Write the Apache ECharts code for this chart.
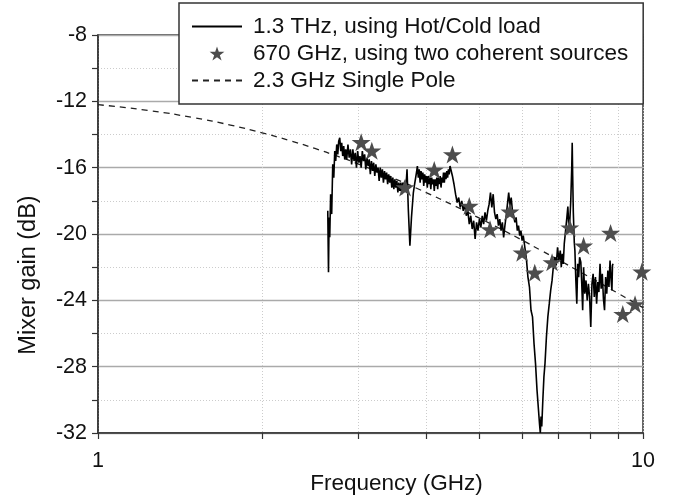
<!DOCTYPE html>
<html><head><meta charset="utf-8">
<script src="https://cdn.jsdelivr.net/npm/echarts@6/dist/echarts.min.js"></script>
<style>html,body{margin:0;padding:0;background:#fff}#c{width:677px;height:499px}</style>
</head><body><div id="c"></div>
<script>
// 1.3 THz, using Hot/Cold load (frequency GHz, gain dB)
const thzFreq = [2.640,2.648,2.655,2.662,2.672,2.684,2.696,2.708,2.719,2.730,2.742,2.754,2.765,2.777,2.789,2.800,2.812,2.824,2.836,2.848,
 2.860,2.875,2.890,2.905,2.920,2.935,2.950,2.965,2.980,2.995,3.010,3.025,3.040,3.055,3.070,3.085,3.100,3.115,3.130,3.145,3.160,3.175,3.190,3.205,
 3.220,3.235,3.250,3.265,3.280,3.295,3.310,3.325,3.340,3.355,3.370,3.385,3.400,3.415,3.430,3.445,3.460,3.475,3.490,3.505,3.520,3.535,3.550,3.565,
 3.580,3.595,3.610,3.625,3.640,3.655,3.670,
 3.69,3.71,3.735,3.76,3.79,3.81,
 3.840,3.855,3.870,3.885,3.900,3.915,3.930,3.945,3.960,3.975,3.990,4.005,4.020,4.035,4.050,4.065,4.080,4.095,4.110,4.125,4.140,4.155,4.170,4.185,
 4.200,4.215,4.230,4.245,4.260,4.275,4.290,4.305,4.320,4.335,4.350,4.365,4.380,4.395,4.410,4.425,4.440,4.47,
 4.50,4.53,4.56,4.59,4.62,4.65,4.68,4.71,4.74,4.77,4.80,4.83,4.86,4.89,4.92,4.95,4.98,5.01,5.04,5.07,5.10,5.13,5.16,5.19,5.22,5.25,5.28,5.31,
 5.34,5.37,5.40,5.43,5.46,5.49,5.52,5.55,5.58,5.61,5.64,5.67,5.70,5.73,5.76,5.79,5.82,5.85,5.88,5.91,5.94,5.97,6.00,6.03,6.07,6.11,6.15,6.19,
 6.23,6.27,6.31,6.35,6.39,6.43,6.46,6.48,6.50,6.52,6.55,6.58,6.61,6.65,6.69,6.73,6.77,6.81,6.85,6.89,6.93,6.97,7.01,7.05,7.08,7.11,7.14,7.17,
 7.21,7.25,7.28,7.31,7.34,7.37,7.40,7.415,7.43,7.45,7.48,7.50,7.53,7.56,7.59,7.62,7.65,7.69,7.72,7.75,7.78,7.82,7.86,7.90,7.94,7.98,8.02,8.06,
 8.10,8.14,8.18,8.22,8.26,8.30,8.34,8.38,8.42,8.46,8.50,8.54,8.58,8.62,8.66,8.70,8.74,8.77,8.79,8.81];
const thzGain = [-18.6,-22.3,-19.0,-20.2,-17.6,-18.8,-15.8,-16.6,-15.0,-15.6,-14.6,-15.2,-14.4,-14.2,-15.0,-14.5,-15.3,-14.7,-15.5,-14.9,
 -15.5,-14.6,-15.4,-14.9,-15.8,-14.9,-15.6,-15.1,-16.0,-15.0,-15.7,-15.3,-16.0,-15.0,-15.6,-15.2,-16.1,-15.4,-15.9,-15.5,-16.4,-15.6,-16.2,-15.7,
 -16.5,-15.8,-16.3,-16.0,-16.8,-16.0,-16.6,-16.1,-16.9,-16.2,-16.7,-16.3,-17.0,-16.4,-16.9,-16.5,-17.2,-16.6,-17.3,-16.7,-17.2,-16.8,-17.5,-16.9,
 -17.4,-16.9,-17.6,-16.9,-17.3,-16.8,-17.4,
 -16.1,-18.5,-20.7,-19.0,-17.5,-17.0,
 -16.3,-15.9,-16.6,-16.1,-16.9,-16.2,-16.7,-16.3,-17.1,-16.4,-16.9,-16.5,-17.2,-16.5,-17.0,-16.6,-17.3,-16.6,-17.0,-16.7,-17.4,-16.7,-17.1,-16.6,
 -17.3,-16.6,-17.0,-16.5,-17.2,-16.6,-16.9,-16.3,-16.9,-16.3,-16.7,-16.2,-16.6,-16.1,-16.4,-15.9,-16.0,-16.5,
 -17.0,-17.6,-18.1,-17.8,-18.4,-18.0,-18.6,-18.2,-18.9,-18.6,-19.4,-18.9,-19.7,-19.2,-20.3,-19.3,-19.8,-19.1,-19.6,-18.9,-19.4,-18.7,-19.2,-18.6,-18.2,-17.5,-18.4,-17.6,
 -18.7,-19.1,-18.8,-19.5,-19.1,-19.8,-19.3,-20.2,-19.5,-18.9,-18.2,-17.5,-18.3,-17.8,-18.6,-18.9,-19.3,-19.0,-19.8,-19.5,-20.1,-19.8,-20.4,-20.1,-20.8,-21.5,-22.6,-23.2,
 -24.6,-25.0,-26.6,-27.8,-29.4,-30.6,-31.5,-32.0,-31.0,-31.6,-30.0,-28.6,-27.8,-26.2,-25.0,-24.2,-23.4,-22.8,-21.9,-21.4,-21.9,-20.8,-21.6,-21.0,-22.0,-21.2,-21.8,-20.6,
 -19.8,-19.0,-18.35,-19.6,-19.2,-18.0,-16.0,-14.5,-16.5,-18.7,-20.5,-21.0,-22.8,-24.2,-21.8,-22.6,-21.4,-21.7,-23.0,-24.6,-22.0,-23.6,-22.8,-24.0,-23.0,-23.8,-25.6,-23.0,
 -22.4,-23.8,-22.6,-24.2,-22.9,-23.5,-21.8,-23.3,-22.4,-23.9,-24.6,-22.6,-23.6,-22.2,-23.2,-21.6,-22.8,-23.4,-21.9,-21.8];

// 670 GHz, using two coherent sources
const starFreq = [3.04,3.18,3.66,4.14,4.47,4.80,5.24,5.70,6.00,6.33,6.81,7.34,7.78,8.72,9.18,9.67,9.95];
const starGain = [-14.47,-14.98,-17.19,-16.14,-15.20,-18.31,-19.72,-18.66,-21.13,-22.34,-21.71,-19.62,-20.71,-19.94,-24.83,-24.24,-22.28];

// 2.3 GHz Single Pole
const poleFreq = [1,1.25,1.5,1.75,2,2.25,2.5,2.75,3,3.5,4,4.5,5,5.5,6,6.5,7,7.5,8,8.5,9,9.5,10];
const poleGain = [-12.2,-12.57,-12.99,-13.43,-13.9,-14.37,-14.84,-15.31,-15.77,-16.66,-17.5,-18.29,-19.03,-19.72,-20.37,-20.99,-21.56,-22.11,-22.62,-23.11,-23.58,-24.02,-24.44];

const xTicks = [1,2,3,4,5,6,7,8,9,10];
const xLabels = [1,10];
const seriesNames = ['1.3 THz, using Hot/Cold load','670 GHz, using two coherent sources','2.3 GHz Single Pole'];

const zip = (a,b) => a.map((v,i)=>[v,b[i]]);
const FONT = "'Liberation Sans', Arial, Helvetica, sans-serif";
const star = 'path://M50,0 L61.8,35.1 L98.9,35.1 L68.8,57.3 L80.3,92.7 L50,70.8 L19.7,92.7 L31.2,57.3 L1.1,35.1 L38.2,35.1 Z';
const hidden = {opacity:0,color:'transparent',borderColor:'transparent',borderWidth:0};

const chart = echarts.init(document.getElementById('c'), null, {renderer:'canvas'});
chart.setOption({
  animation:false,
  backgroundColor:'#fff',
  textStyle:{fontFamily:FONT},
  grid:{left:98,right:34,top:35,bottom:66,containLabel:false,outerBoundsMode:'none',show:true,borderColor:'#333',borderWidth:1.5,backgroundColor:'transparent'},
  legend:{
    orient:'vertical',left:179,top:3,
    data:[{name:seriesNames[0],itemStyle:hidden},{name:seriesNames[1]},{name:seriesNames[2],itemStyle:hidden}],
    backgroundColor:'#fff',borderColor:'#333',borderWidth:1.5,borderRadius:0,
    padding:[12,15,12,12],itemGap:4,itemWidth:50,itemHeight:14,
    textStyle:{fontSize:22.5,color:'#111',fontFamily:FONT,lineHeight:23,padding:[0,0,0,6]}
  },
  xAxis:{
    type:'log',logBase:10,min:1,max:10,
    name:'Frequency (GHz)',nameLocation:'middle',nameGap:39,nameMoveOverlap:false,
    nameTextStyle:{fontSize:22.5,color:'#111',fontFamily:FONT,padding:[0,0,0,52]},
    axisLine:{lineStyle:{color:'#333',width:1.5}},
    axisTick:{show:true,inside:false,length:6,customValues:xTicks,lineStyle:{color:'#333',width:1.2}},
    axisLabel:{customValues:xLabels,fontSize:21.5,color:'#111',margin:17,fontFamily:FONT},
    splitLine:{show:true,lineStyle:{color:'#ccc',type:[1,2],width:1}},
    minorTick:{show:false},minorSplitLine:{show:false}
  },
  yAxis:{
    type:'value',min:-32,max:-8,interval:4,
    name:'Mixer gain (dB)',nameLocation:'middle',nameGap:57,nameRotate:90,nameMoveOverlap:false,
    nameTextStyle:{fontSize:23.5,color:'#111',fontFamily:FONT,padding:[0,82,0,0]},
    axisLine:{show:true,lineStyle:{color:'#333',width:1.5}},
    axisTick:{show:true,inside:false,length:6,lineStyle:{color:'#333',width:1.2}},
    minorTick:{show:true,splitNumber:2,length:6,lineStyle:{color:'#333',width:1.2}},
    axisLabel:{fontSize:21.5,color:'#111',margin:11,fontFamily:FONT},
    splitLine:{show:true,lineStyle:{color:'#aaa',width:1.3}},
    minorSplitLine:{show:true,lineStyle:{color:'#ccc',type:[1,2],width:1}}
  },
  series:[
    {name:seriesNames[2],type:'line',data:zip(poleFreq,poleGain),symbol:'none',smooth:true,
     lineStyle:{color:'#222',width:1.3,type:[6,5]},itemStyle:{color:'#222'},z:2},
    {name:seriesNames[0],type:'line',data:zip(thzFreq,thzGain),symbol:'none',
     lineStyle:{color:'#000',width:1.6},itemStyle:{color:'#000'},z:3},
    {name:seriesNames[1],type:'scatter',data:zip(starFreq,starGain),symbol:star,symbolSize:19,symbolKeepAspect:true,
     itemStyle:{color:'#4d4d4d',opacity:1},z:4}
  ]
});
</script></body></html>
